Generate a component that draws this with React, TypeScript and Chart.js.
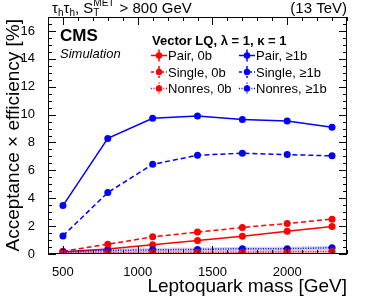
import { useEffect, useRef } from "react";
import { Chart, registerables } from "chart.js";
Chart.register(...registerables);

const masses = [500, 800, 1100, 1400, 1700, 2000, 2300];
const pair0b = [0.14, 0.36, 0.67, 0.96, 1.28, 1.64, 1.98];
const single0b = [0.19, 0.7, 1.23, 1.57, 1.9, 2.19, 2.5];
const nonres0b = [0.05, 0.08, 0.1, 0.12, 0.13, 0.15, 0.18];
const pair1b = [3.47, 8.29, 9.74, 9.9, 9.64, 9.54, 9.09];
const single1b = [1.3, 4.41, 6.43, 7.08, 7.23, 7.13, 7.04];
const nonres1b = [0.15, 0.25, 0.3, 0.33, 0.38, 0.38, 0.45];
const xTicks = [500, 1000, 1500, 2000];
const yTicks = [0, 2, 4, 6, 8, 10, 12, 14, 16];

const RED = "#ff0000";
const BLUE = "#0000ff";
const FONT = "'Liberation Sans', Arial, sans-serif";

const pts = (vals: number[]) => masses.map((m, i) => ({ x: m, y: vals[i] }));

export default function App() {
  const ref = useRef<HTMLCanvasElement | null>(null);
  useEffect(() => {
    if (!ref.current) return;
    const mk = (label: string, vals: number[], color: string, dash: number[]) => ({
      label,
      data: pts(vals),
      borderColor: color,
      backgroundColor: color,
      borderWidth: 1.5,
      borderDash: dash,
      pointRadius: 3.5,
      pointBorderWidth: 0,
      pointBackgroundColor: color,
      showLine: true,
      tension: 0,
    });
    const band = (vals: number[], color: string) => ({
      label: "band",
      data: pts(vals),
      borderColor: color,
      borderWidth: 4,
      pointRadius: 0,
      showLine: true,
      tension: 0,
    });

    const decor = {
      id: "decor",
      afterDraw(chart: any) {
        const ctx = chart.ctx as CanvasRenderingContext2D;
        const a = chart.chartArea;
        const xs = chart.scales.x;
        const ys = chart.scales.y;
        ctx.save();
        ctx.strokeStyle = "#000";
        ctx.lineWidth = 1;
        ctx.strokeRect(a.left + 0.5, a.top + 0.5, a.right - a.left - 1, a.bottom - a.top - 1);
        ctx.beginPath();
        for (let v = 400; v <= 2400; v += 100) {
          const p = Math.round(xs.getPixelForValue(v)) + 0.5;
          const len = v % 500 === 0 ? 8 : 4;
          ctx.moveTo(p, a.bottom);
          ctx.lineTo(p, a.bottom - len);
          ctx.moveTo(p, a.top);
          ctx.lineTo(p, a.top + len);
        }
        for (let v = 0; v <= 17; v += 0.5) {
          const p = Math.round(ys.getPixelForValue(v)) + 0.5;
          const len = v % 2 === 0 ? 8 : 4;
          ctx.moveTo(a.left, p);
          ctx.lineTo(a.left + len, p);
          ctx.moveTo(a.right, p);
          ctx.lineTo(a.right - len, p);
        }
        ctx.stroke();

        ctx.fillStyle = "#000";
        // axis titles
        ctx.font = `19px ${FONT}`;
        ctx.textAlign = "right";
        ctx.textBaseline = "alphabetic";
        ctx.fillText("Leptoquark mass [GeV]", a.right, 292);
        ctx.save();
        ctx.translate(19, a.top + 2);
        ctx.rotate(-Math.PI / 2);
        ctx.textAlign = "right";
        ctx.fillText("Acceptance \u00d7 efficiency [%]", 0, 0);
        ctx.restore();

        // top texts
        ctx.font = `15px ${FONT}`;
        ctx.textAlign = "right";
        ctx.fillText("(13 TeV)", a.right, 13);
        ctx.textAlign = "left";
        let x = 52;
        const base = 13;
        const big = `15px ${FONT}`;
        const small = `10px ${FONT}`;
        const put = (t: string, f: string, dy: number) => {
          ctx.font = f;
          ctx.fillText(t, x, base + dy);
          x += ctx.measureText(t).width;
        };
        put("\u03c4", big, 0);
        put("h", small, 3);
        put("\u03c4", big, 0);
        put("h", small, 3);
        put(", S", big, 0);
        ctx.font = small;
        const sx = x;
        ctx.fillText("T", sx, base + 3);
        ctx.fillText("MET", sx, base - 7);
        x = sx + ctx.measureText("MET").width + 1;
        put(" > 800 GeV", big, 0);

        // CMS
        ctx.font = `bold 17px ${FONT}`;
        ctx.fillText("CMS", 60, 41);
        ctx.font = `italic 13px ${FONT}`;
        ctx.fillText("Simulation", 60, 58);

        // legend
        ctx.font = `bold 13px ${FONT}`;
        ctx.fillText("Vector LQ, \u03bb = 1, \u03ba = 1", 152, 45);
        const entries = [
          ["Pair, 0b", RED, [], 0, 0],
          ["Single, 0b", RED, [3, 2], 0, 1],
          ["Nonres, 0b", RED, [1, 1.5], 0, 2],
          ["Pair, \u22651b", BLUE, [], 1, 0],
          ["Single, \u22651b", BLUE, [3, 2], 1, 1],
          ["Nonres, \u22651b", BLUE, [1, 1.5], 1, 2],
        ] as [string, string, number[], number, number][];
        ctx.font = `13px ${FONT}`;
        ctx.textBaseline = "middle";
        for (const [t, c, d, col, row] of entries) {
          const mx = col === 0 ? 159 : 247;
          const my = 55.5 + row * 16.5;
          ctx.strokeStyle = c;
          ctx.fillStyle = c;
          ctx.lineWidth = 1.5;
          ctx.setLineDash(d);
          ctx.beginPath();
          ctx.moveTo(mx - 8, my);
          ctx.lineTo(mx + 8, my);
          ctx.moveTo(mx, my - 6);
          ctx.lineTo(mx, my + 6);
          ctx.stroke();
          ctx.setLineDash([]);
          ctx.beginPath();
          ctx.arc(mx, my, 3.2, 0, Math.PI * 2);
          ctx.fill();
          ctx.fillStyle = "#000";
          ctx.fillText(t, mx + 9, my + 1);
        }
        ctx.restore();
      },
    };

    const chart = new Chart(ref.current, {
      type: "scatter",
      data: {
        datasets: [
          band(nonres0b, "rgba(255,0,0,0.18)"),
          band(nonres1b, "rgba(0,0,255,0.18)"),
          mk("Nonres, 0b", nonres0b, RED, [1, 1.5]),
          mk("Nonres, \u22651b", nonres1b, BLUE, [1, 1.5]),
          mk("Pair, 0b", pair0b, RED, []),
          mk("Single, 0b", single0b, RED, [5, 3]),
          mk("Pair, \u22651b", pair1b, BLUE, []),
          mk("Single, \u22651b", single1b, BLUE, [5, 3]),
        ] as any,
      },
      options: {
        animation: false,
        responsive: false,
        events: [],
        layout: { padding: { top: 17, right: 19, left: 0, bottom: 0 } },
        plugins: { legend: { display: false }, tooltip: { enabled: false } },
        scales: {
          x: {
            type: "linear",
            min: 400,
            max: 2400,
            grid: { display: false },
            border: { display: false },
            afterBuildTicks: (s: any) => {
              s.ticks = xTicks.map((v) => ({ value: v }));
            },
            afterFit: (s: any) => {
              s.height = 46;
            },
            ticks: {
              padding: 3,
              color: "#000",
              font: { family: FONT, size: 13 },
              maxRotation: 0,
              callback: (v: any) => String(v),
            },
          },
          y: {
            type: "linear",
            min: 0,
            max: 17,
            grid: { display: false },
            border: { display: false },
            afterBuildTicks: (s: any) => {
              s.ticks = yTicks.map((v) => ({ value: v }));
            },
            afterFit: (s: any) => {
              s.width = 48;
            },
            ticks: {
              padding: 5,
              color: "#000",
              font: { family: FONT, size: 13 },
              callback: (v: any) => String(v),
            },
          },
        },
      } as any,
      plugins: [decor],
    });
    return () => chart.destroy();
  }, []);
  return (
    <div style={{ position: "fixed", left: 0, top: 0, width: 366, height: 300, background: "#fff" }}>
      <canvas ref={ref} width={366} height={300} style={{ width: 366, height: 300, display: "block" }} />
    </div>
  );
}
